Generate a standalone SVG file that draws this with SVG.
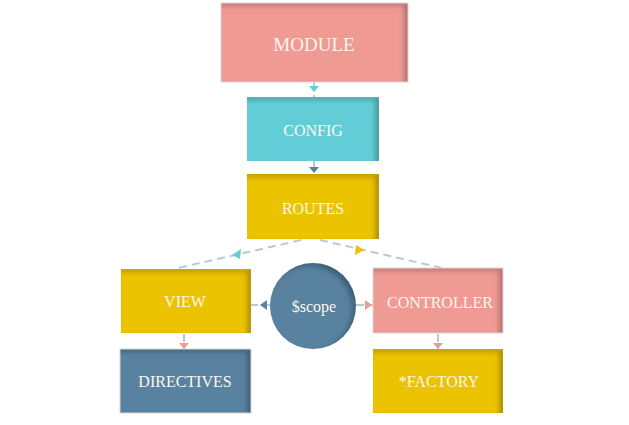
<svg xmlns="http://www.w3.org/2000/svg" width="629" height="425" viewBox="0 0 629 425">
<defs>
<style>
.lbl{font-family:"Liberation Serif","DejaVu Serif",serif;font-size:16px;fill:#fdf6ea;text-anchor:middle;dominant-baseline:central}
.ln{stroke:#b9c9d5;stroke-width:2;stroke-dasharray:8 5;fill:none}
.frame{fill:none;stroke:#d8d8d8;stroke-width:1}
</style>
<filter id="ins" x="-0.05" y="-0.05" width="1.1" height="1.1">
<feComponentTransfer in="SourceAlpha"><feFuncA type="table" tableValues="1 0"/></feComponentTransfer>
<feGaussianBlur stdDeviation="2.5"/>
<feOffset dx="-4" dy="3" result="sh"/>
<feFlood flood-color="#000" flood-opacity="0.5"/>
<feComposite in2="sh" operator="in"/>
<feComposite in2="SourceAlpha" operator="in" result="inner"/>
<feMerge><feMergeNode in="SourceGraphic"/><feMergeNode in="inner"/></feMerge>
</filter>
</defs>
<rect width="629" height="425" fill="#fff"/>
<g id="connectors">
<line class="ln" x1="314" y1="82" x2="314" y2="97"/>
<polygon points="309,86 319,86 314,92" fill="#63cdd7"/>
<line class="ln" x1="314" y1="161" x2="314" y2="174"/>
<polygon points="309,167 319,167 314,173" fill="#5882a0"/>
<line class="ln" x1="301" y1="240" x2="178" y2="268"/>
<polygon points="232,255 241,249 240,259" fill="#63cdd7"/>
<line class="ln" x1="320" y1="240" x2="442" y2="268"/>
<polygon points="364,250 356,245 355,255" fill="#ebc300"/>
<line class="ln" x1="271" y1="305" x2="251" y2="305"/>
<polygon points="260,305 267,300 267,310" fill="#5882a0"/>
<line class="ln" x1="356" y1="305" x2="373" y2="305"/>
<polygon points="372,305 365,300 365,310" fill="#f09a94"/>
<line class="ln" x1="184" y1="334" x2="184" y2="349"/>
<polygon points="179,343 189,343 184,349" fill="#f09a94"/>
<line class="ln" x1="438" y1="334" x2="438" y2="349"/>
<polygon points="433,343 443,343 438,349" fill="#f09a94"/>
</g>
<g id="module">
<rect x="221" y="3" width="187" height="79" fill="#f09a94" filter="url(#ins)"/>
<rect class="frame" x="221" y="3" width="187" height="79"/>
<text class="lbl" x="314" y="44" style="font-size:19px">MODULE</text>
</g>
<g id="config">
<rect x="247" y="97" width="132" height="64" fill="#63cdd7" filter="url(#ins)"/>
<text class="lbl" x="313" y="130">CONFIG</text>
</g>
<g id="routes">
<rect x="247" y="174" width="132" height="65" fill="#ebc300" filter="url(#ins)"/>
<text class="lbl" x="313" y="208">ROUTES</text>
</g>
<g id="view">
<rect x="121" y="269" width="130" height="64" fill="#ebc300" filter="url(#ins)"/>
<text class="lbl" x="185" y="301">VIEW</text>
</g>
<g id="scope">
<circle cx="313" cy="306" r="43" fill="#5882a0" filter="url(#ins)"/>
<text class="lbl" x="314" y="306">$scope</text>
</g>
<g id="controller">
<rect x="373" y="268" width="130" height="65" fill="#f09a94" filter="url(#ins)"/>
<rect class="frame" x="373" y="268" width="130" height="65"/>
<text class="lbl" x="440" y="302">CONTROLLER</text>
</g>
<g id="directives">
<rect x="120" y="349" width="131" height="64" fill="#5882a0" filter="url(#ins)"/>
<rect class="frame" x="120" y="349" width="131" height="64"/>
<text class="lbl" x="185" y="381">DIRECTIVES</text>
</g>
<g id="factory">
<rect x="373" y="349" width="130" height="64" fill="#ebc300" filter="url(#ins)"/>
<text class="lbl" x="439" y="381">*FACTORY</text>
</g>
</svg>
